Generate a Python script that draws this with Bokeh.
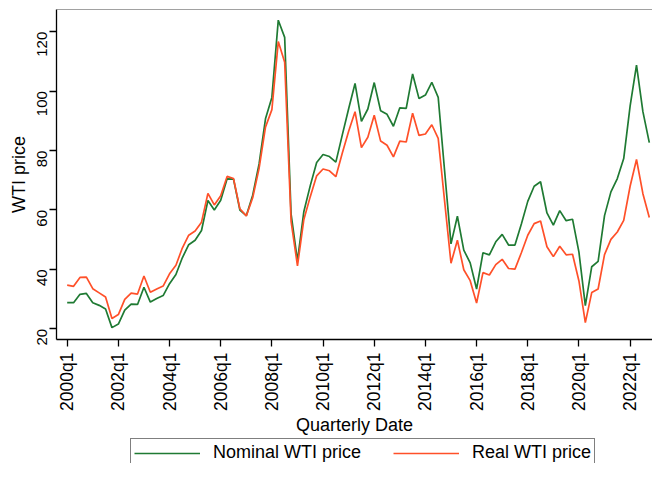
import math
from bokeh.plotting import figure
from bokeh.layouts import column
from bokeh.models import FixedTicker, Legend, LegendItem, Span, Range1d
from bokeh.embed import file_html
from bokeh.resources import INLINE

quarters = [f"{y}q{q}" for y in range(2000, 2023) for q in range(1, 5)]

nominal = [
    28.8, 28.8, 31.6, 31.9,   # 2000
    28.8, 27.9, 26.7, 20.4,   # 2001
    21.6, 26.3, 28.3, 28.2,   # 2002
    34.0, 29.0, 30.2, 31.2,   # 2003
    35.2, 38.3, 43.9, 48.3,   # 2004
    49.8, 53.1, 63.2, 60.0,   # 2005
    63.3, 70.5, 70.4, 60.0,   # 2006
    58.1, 65.0, 75.5, 90.7,   # 2007
    97.9, 123.9, 118.1, 58.7, # 2008
    42.9, 59.5, 68.2, 76.0,   # 2009
    78.7, 78.0, 76.1, 85.2,   # 2010
    94.1, 102.6, 89.8, 94.0,  # 2011
    102.9, 93.4, 92.2, 88.2,  # 2012
    94.4, 94.2, 105.8, 97.5,  # 2013
    98.7, 103.0, 97.9, 73.2,  # 2014
    48.6, 57.9, 46.5, 42.2,   # 2015
    33.4, 45.6, 44.9, 49.3,   # 2016
    51.8, 48.2, 48.2, 55.3,   # 2017
    62.9, 68.0, 69.5, 59.0,   # 2018
    54.9, 59.8, 56.4, 56.9,   # 2019
    45.8, 27.8, 40.9, 42.7,   # 2020
    58.1, 66.1, 70.6, 77.3,   # 2021
    95.0, 108.8, 93.1, 82.7,  # 2022
]

real = [
    34.7, 34.3, 37.3, 37.4,   # 2000
    33.5, 32.1, 30.7, 23.5,   # 2001
    24.8, 29.9, 32.0, 31.7,   # 2002
    37.8, 32.3, 33.4, 34.4,   # 2003
    38.5, 41.4, 47.2, 51.5,   # 2004
    52.9, 55.9, 65.6, 61.7,   # 2005
    64.8, 71.3, 70.6, 60.4,   # 2006
    58.0, 64.1, 74.0, 87.9,   # 2007
    93.8, 116.7, 109.7, 56.2, # 2008
    41.2, 56.8, 64.5, 71.5,   # 2009
    73.8, 73.2, 71.2, 79.1,   # 2010
    86.5, 93.1, 81.0, 84.5,   # 2011
    91.9, 83.2, 81.8, 77.9,   # 2012
    83.2, 82.9, 92.6, 85.1,   # 2013
    85.6, 88.7, 84.1, 63.0,   # 2014
    42.1, 49.8, 39.9, 36.2,   # 2015
    28.7, 38.9, 38.1, 41.6,   # 2016
    43.4, 40.3, 40.1, 45.6,   # 2017
    51.5, 55.4, 56.3, 47.6,   # 2018
    44.3, 47.8, 44.9, 45.1,   # 2019
    36.1, 22.1, 32.2, 33.4,   # 2020
    45.0, 50.1, 52.6, 56.5,   # 2021
    68.0, 77.0, 65.5, 57.5,   # 2022
]

tick_labels = ["2000q1", "2002q1", "2004q1", "2006q1", "2008q1", "2010q1",
               "2012q1", "2014q1", "2016q1", "2018q1", "2020q1", "2022q1"]
y_ticks = [20, 40, 60, 80, 100, 120]
series_names = ["Nominal WTI price", "Real WTI price"]

GREEN = "#1f7a33"
ORANGE = "#ff5029"
FONT = "Liberation Sans"

x = list(range(len(quarters)))
tick_pos = [quarters.index(t) for t in tick_labels]

y_top = 127.5
p = figure(width=652, height=437, output_backend="svg", toolbar_location=None,
           x_range=Range1d(-1.67, 91.5), y_range=Range1d(16.4, y_top),
           min_border_top=9, min_border_right=0, min_border_left=56, min_border_bottom=90)
p.background_fill_color = "white"
p.border_fill_color = "white"
p.outline_line_color = None
p.xgrid.visible = False
p.ygrid.visible = False

p.line(x, nominal, line_color=GREEN, line_width=1.7)
p.line(x, real, line_color=ORANGE, line_width=1.7)

p.add_layout(Span(location=y_top, dimension="width", line_color="#444444", line_width=1.2))

for ax in (p.xaxis, p.yaxis):
    ax.axis_line_color = "black"
    ax.axis_line_width = 1.3
    ax.major_tick_line_color = "black"
    ax.major_tick_line_width = 1.3
    ax.major_tick_in = 0
    ax.major_tick_out = 7
    ax.minor_tick_line_color = None
    ax.major_label_text_font = FONT
    ax.major_label_text_color = "black"
    ax.axis_label_text_font = FONT
    ax.axis_label_text_font_style = "normal"
    ax.axis_label_text_color = "black"
    ax.axis_label_text_font_size = "18px"

p.xaxis.ticker = FixedTicker(ticks=tick_pos)
p.xaxis.major_label_overrides = {pos: lbl for pos, lbl in zip(tick_pos, tick_labels)}
p.xaxis.major_label_orientation = math.pi / 2
p.xaxis.major_label_text_font_size = "17.5px"
p.xaxis.major_label_standoff = 6
p.xaxis.axis_label = "Quarterly Date"
p.xaxis.axis_label_standoff = 1

p.yaxis.ticker = FixedTicker(ticks=y_ticks)
p.yaxis.major_label_orientation = math.pi / 2
p.yaxis.major_label_text_font_size = "15px"
p.yaxis.major_label_standoff = 7
p.yaxis.axis_label = "WTI price"
p.yaxis.axis_label_standoff = 1

# legend strip below the chart (its frame is aligned with the chart frame)
leg = figure(width=652, height=26, output_backend="svg", toolbar_location=None,
             x_range=Range1d(0, 1), y_range=Range1d(0, 1),
             x_axis_type=None, y_axis_type=None,
             min_border=0)
leg.outline_line_color = None
leg.xgrid.visible = False
leg.ygrid.visible = False
g1 = leg.line([-10, -9], [-10, -9], line_color=GREEN, line_width=1.7)
g2 = leg.line([-10, -9], [-10, -9], line_color=ORANGE, line_width=1.7)
legend = Legend(items=[LegendItem(label=series_names[0], renderers=[g1]),
                       LegendItem(label=series_names[1], renderers=[g2])],
                orientation="horizontal", location=(74, -4),
                glyph_width=66, glyph_height=16, label_standoff=13, spacing=32,
                padding=3, margin=0,
                label_text_font=FONT, label_text_font_size="18px", label_text_color="black",
                border_line_color="black", border_line_width=1.2,
                background_fill_color="white")
leg.add_layout(legend, "center")

layout = column(p, leg, spacing=0)
open("out.html", "w").write(file_html(layout, INLINE))
